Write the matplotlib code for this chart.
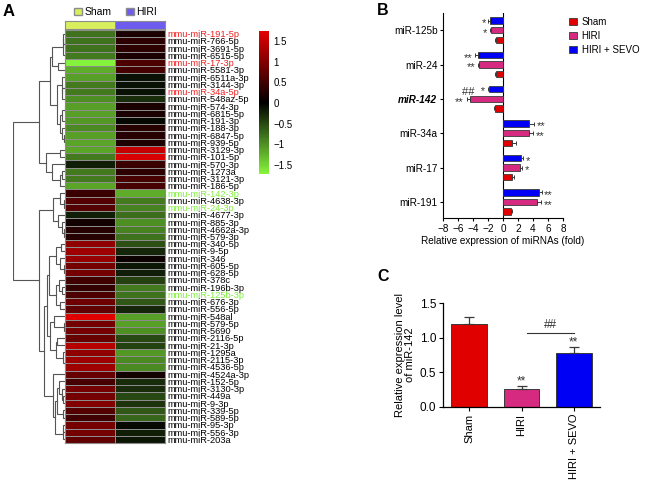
import matplotlib
matplotlib.use("Agg")
import matplotlib.pyplot as plt
import numpy as np
from matplotlib.colors import LinearSegmentedColormap
from matplotlib.patches import Patch
from matplotlib.ticker import FuncFormatter

plt.rcParams['font.family'] = ['Liberation Sans', 'DejaVu Sans']

# ---- panel A data (heatmap, top to bottom) ----
MIRNAS = ["mmu-miR-191-5p", "mmu-miR-766-5p", "mmu-miR-3691-5p", "mmu-miR-6515-5p", "mmu-miR-17-3p",
          "mmu-miR-5581-3p", "mmu-miR-6511a-3p", "mmu-miR-3144-3p", "mmu-miR-34a-5p", "mmu-miR-548az-5p",
          "mmu-miR-574-3p", "mmu-miR-6815-5p", "mmu-miR-191-3p", "mmu-miR-188-3p", "mmu-miR-6847-5p",
          "mmu-miR-939-5p", "mmu-miR-3129-3p", "mmu-miR-101-5p", "mmu-miR-570-3p", "mmu-miR-1273a",
          "mmu-miR-3121-3p", "mmu-miR-186-5p", "mmu-miR-142-3p", "mmu-miR-4638-3p", "mmu-miR-24-3p",
          "mmu-miR-4677-3p", "mmu-miR-885-3p", "mmu-miR-4662a-3p", "mmu-miR-579-3p", "mmu-miR-340-5p",
          "mmu-miR-9-5p", "mmu-miR-346", "mmu-miR-605-5p", "mmu-miR-628-5p", "mmu-miR-378c",
          "mmu-miR-196b-3p", "mmu-miR-125b-3p", "mmu-miR-676-3p", "mmu-miR-556-5p", "mmu-miR-548al",
          "mmu-miR-579-5p", "mmu-miR-5690", "mmu-miR-2116-5p", "mmu-miR-21-3p", "mmu-miR-1295a",
          "mmu-miR-2115-3p", "mmu-miR-4536-5p", "mmu-miR-4524a-3p", "mmu-miR-152-5p", "mmu-miR-3130-3p",
          "mmu-miR-449a", "mmu-miR-9-3p", "mmu-miR-339-5p", "mmu-miR-589-5p", "mmu-miR-95-3p",
          "mmu-miR-556-3p", "mmu-miR-203a"]
SHAM_Z = [-0.8, -0.8, -0.8, -0.85, -1.7, -1.2, -1.1, -0.85, -0.85, -1.0,
          -1.1, -1.1, -1.05, -0.95, -1.1, -1.15, -1.15, -0.85, -0.2, -0.85,
          -0.85, -1.15, 0.45, 0.65, 0.65, -0.2, 0.15, 0.3, 0.3, 1.1,
          1.2, 1.15, 0.9, 0.9, 0.5, 0.4, 0.6, 0.85, 0.75, 1.7,
          0.9, 0.9, 0.8, 1.4, 1.1, 1.2, 1.2, 0.8, 0.55, 0.9,
          0.9, 1.0, 0.65, 0.5, 0.9, 0.9, 0.75]
HIRI_Z = [0.2, 0.35, 0.35, 0.2, 0.6, 0.55, -0.1, -0.1, -0.1, -0.3,
          0.2, 0.2, -0.05, 0.3, 0.3, 0.25, 1.5, 1.65, 0.45, 0.35,
          0.55, 0.55, -1.2, -0.85, -0.9, -0.75, -1.0, -0.9, -0.8, -0.55,
          -0.25, 0.1, -0.15, -0.2, -0.45, -0.85, -0.8, -0.6, -0.25, -1.1,
          -1.1, -1.0, -0.5, -0.45, -1.05, -0.95, -0.95, 0.15, -0.3, -0.3,
          -0.5, -0.35, -0.6, -0.7, -0.05, -0.2, -0.15]
RED_LABELS = ["mmu-miR-191-5p", "mmu-miR-17-3p", "mmu-miR-34a-5p"]
GREEN_LABELS = ["mmu-miR-142-3p", "mmu-miR-24-3p", "mmu-miR-125b-3p"]

# ---- panel B data ----
B_GENES = ["miR-125b", "miR-24", "miR-142", "miR-34a", "miR-17", "miR-191"]
B_SHAM = [-1.0, -1.0, -1.05, 1.25, 1.15, 1.05]
B_SHAM_ERR = [0.1, 0.1, 0.15, 0.45, 0.25, 0.2]
B_HIRI = [-1.6, -3.15, -4.4, 3.4, 2.2, 4.5]
B_HIRI_ERR = [0.1, 0.2, 0.45, 0.6, 0.3, 0.6]
B_SEVO = [-1.8, -3.3, -1.85, 3.4, 2.35, 4.85]
B_SEVO_ERR = [0.15, 0.4, 0.2, 0.7, 0.3, 0.3]
B_HIRI_MARK = ["*", "**", "**", "**", "*", "**"]
B_SEVO_MARK = ["*", "**", "##  *", "**", "*", "**"]

# ---- panel C data ----
C_GROUPS = ["Sham", "HIRI", "HIRI + SEVO"]
C_MEAN = [1.2, 0.25, 0.78]
C_ERR = [0.1, 0.05, 0.09]
C_MARK = ["", "**", "**"]

RED = "#e00000"
PINK = "#d62a80"
BLUE = "#0000f5"
EDGE = "#3a3a3a"

W, H = 645, 482
fig = plt.figure(figsize=(6.45, 4.82), dpi=100)


def box(x0, y0, x1, y1):
    # pixel box (top-left origin) -> figure fraction rect
    return [x0 / W, 1 - y1 / H, (x1 - x0) / W, (y1 - y0) / H]


# ================= A: heatmap =================
vals = np.column_stack([SHAM_Z, HIRI_Z])
n = len(MIRNAS)
cmap = LinearSegmentedColormap.from_list("gkr", ["#86f53c", "#000000", "#e30000"])

ax_h = fig.add_axes(box(65, 30, 165, 443))
mesh = ax_h.pcolormesh(np.arange(3), np.arange(n + 1), vals, cmap=cmap, vmin=-1.72, vmax=1.74,
                       edgecolor="#8c8c8c", linewidth=0.6)
ax_h.set_ylim(n, 0)
ax_h.set_xlim(0, 2)
ax_h.set_xticks([])
ax_h.yaxis.tick_right()
ax_h.set_yticks(np.arange(n) + 0.5)
ax_h.set_yticklabels(MIRNAS, fontsize=6.7)
ax_h.tick_params(axis="y", length=0, pad=1.5)
for lab in ax_h.get_yticklabels():
    if lab.get_text() in RED_LABELS:
        lab.set_color("#f02020")
    elif lab.get_text() in GREEN_LABELS:
        lab.set_color("#7ef03a")
for s in ax_h.spines.values():
    s.set_color("#8c8c8c")

# column header band
ax_g = fig.add_axes(box(65, 21, 165, 29))
ax_g.pcolormesh(np.arange(3), [0, 1], [[0, 1]],
                cmap=LinearSegmentedColormap.from_list("grp", ["#d8ee5c", "#6e5cee"]),
                edgecolor="#8c8c8c", linewidth=0.6)
ax_g.set_xticks([])
ax_g.set_yticks([])
for s in ax_g.spines.values():
    s.set_color("#8c8c8c")

fig.legend(handles=[Patch(facecolor="#d8ee5c", edgecolor="#8c8c8c", label="Sham"),
                    Patch(facecolor="#6e5cee", edgecolor="#8c8c8c", label="HIRI")],
           loc="center left", bbox_to_anchor=(74 / W, 1 - 12 / H), ncol=2, frameon=False,
           fontsize=7.5, handlelength=0.75, handleheight=0.75, handletextpad=0.25,
           columnspacing=1.4, borderpad=0, borderaxespad=0)

# dendrogram: complete linkage, restricted to neighbouring clusters so leaf order is kept
ax_d = fig.add_axes(box(13, 30, 65, 443))
clusters = [dict(rows=[i], y=i + 0.5, h=0.0) for i in range(n)]
while len(clusters) > 1:
    dists = []
    for a, b in zip(clusters[:-1], clusters[1:]):
        pa, pb = vals[a["rows"]], vals[b["rows"]]
        dists.append(np.max(np.linalg.norm(pa[:, None, :] - pb[None, :, :], axis=2)))
    k = int(np.argmin(dists))
    a, b = clusters[k], clusters[k + 1]
    h = max(dists[k], a["h"], b["h"])
    ax_d.plot([a["h"], h, h, b["h"]], [a["y"], a["y"], b["y"], b["y"]], color="#555555", lw=0.8,
              solid_joinstyle="miter")
    clusters[k:k + 2] = [dict(rows=a["rows"] + b["rows"], y=(a["y"] + b["y"]) / 2, h=h)]
ax_d.set_xlim(clusters[0]["h"], 0)
ax_d.set_ylim(n, 0)
ax_d.axis("off")

# colour bar
cax = fig.add_axes(box(259, 31, 269, 174))
cb = fig.colorbar(mesh, cax=cax, ticks=[-1.5, -1, -0.5, 0, 0.5, 1, 1.5])
cb.outline.set_visible(False)
cax.yaxis.set_major_formatter(FuncFormatter(lambda v, p: f"{v:g}".replace("-", "\u2212")))
cax.tick_params(length=0, labelsize=7, pad=3)

# ================= B: horizontal bars =================
ax_b = fig.add_axes(box(443, 13, 563, 218))
pos = np.arange(len(B_GENES))
off, bh = 0.28, 0.19
series = [(B_SEVO, B_SEVO_ERR, BLUE, "HIRI + SEVO", -off),
          (B_HIRI, B_HIRI_ERR, PINK, "HIRI", 0.0),
          (B_SHAM, B_SHAM_ERR, RED, "Sham", off)]
for v, e, c, lab, o in series:
    v, e = np.array(v), np.array(e)
    ax_b.barh(pos + o, v, height=bh, color=c, edgecolor=EDGE, linewidth=0.6, label=lab, zorder=2)
    xerr = np.vstack([np.where(v < 0, e, 0), np.where(v > 0, e, 0)])
    ax_b.errorbar(v, pos + o, xerr=xerr, fmt="none", ecolor=EDGE, elinewidth=0.7, capsize=1.5,
                  capthick=0.7, zorder=3)
for v, e, marks, o in [(B_SEVO, B_SEVO_ERR, B_SEVO_MARK, -off), (B_HIRI, B_HIRI_ERR, B_HIRI_MARK, 0.0)]:
    for i, (vi, ei, m) in enumerate(zip(v, e, marks)):
        if vi < 0:
            ax_b.text(vi - ei - 0.35, i + o + 0.08, m, ha="right", va="center", fontsize=8, color="#333333")
        else:
            ax_b.text(vi + ei + 0.35, i + o + 0.08, m, ha="left", va="center", fontsize=8, color="#333333")
ax_b.axvline(0, color="black", lw=0.8, zorder=1)
ax_b.set_xlim(-8, 8)
ax_b.set_ylim(5.47, -0.5)
ax_b.set_xticks(np.arange(-8, 9, 2))
ax_b.set_yticks(pos)
ax_b.set_yticklabels(B_GENES)
ax_b.get_yticklabels()[2].set_fontweight("bold")
ax_b.get_yticklabels()[2].set_fontstyle("italic")
ax_b.tick_params(labelsize=7.2, length=2.5, width=0.8, pad=1.5)
ax_b.set_xlabel("Relative expression of miRNAs (fold)", fontsize=7.2, labelpad=2)
for s in ["top", "right"]:
    ax_b.spines[s].set_visible(False)
for s in ["left", "bottom"]:
    ax_b.spines[s].set_linewidth(0.8)
h_, l_ = ax_b.get_legend_handles_labels()
ax_b.legend(h_[::-1], l_[::-1], loc="upper left", bbox_to_anchor=(569 / W, 1 - 17 / H),
            bbox_transform=fig.transFigure, frameon=False, fontsize=7, handlelength=0.8,
            handleheight=0.75, handletextpad=0.5, labelspacing=0.4, borderpad=0, borderaxespad=0)

# ================= C: vertical bars =================
ax_c = fig.add_axes(box(443, 303.3, 600, 406.7))
xc = np.arange(len(C_GROUPS))
ax_c.bar(xc, C_MEAN, width=0.68, color=[RED, PINK, BLUE], edgecolor=EDGE, linewidth=0.7, zorder=2)
ax_c.errorbar(xc, C_MEAN, yerr=[np.zeros(3), C_ERR], fmt="none", ecolor=EDGE, elinewidth=0.9,
              capsize=3.5, capthick=0.9, zorder=3)
for i, m in enumerate(C_MARK):
    if m:
        ax_c.text(i, C_MEAN[i] + C_ERR[i] + 0.06, m, ha="center", va="center", fontsize=8.5, color="#333333")
ax_c.plot([1.11, 2.0], [1.07, 1.07], color="#333333", lw=0.8)
ax_c.text(1.56, 1.19, "##", ha="center", va="center", fontsize=8.5, color="#333333")
ax_c.set_xlim(-0.5, 2.5)
ax_c.set_ylim(0, 1.5)
ax_c.set_yticks([0, 0.5, 1.0, 1.5])
ax_c.yaxis.set_major_formatter(FuncFormatter(lambda v, p: f"{v:.1f}"))
ax_c.set_xticks(xc)
ax_c.set_xticklabels(C_GROUPS, rotation=90, fontsize=8)
ax_c.tick_params(axis="y", labelsize=8.5)
ax_c.tick_params(length=3, width=0.8, pad=2)
ax_c.set_ylabel("Relative expression level\nof miR-142", fontsize=8, labelpad=3, linespacing=1.1)
for s in ["top", "right"]:
    ax_c.spines[s].set_visible(False)
for s in ["left", "bottom"]:
    ax_c.spines[s].set_linewidth(0.9)

# panel letters
fig.text(3 / W, 1 - 4 / H, "A", fontsize=12, fontweight="bold", va="top")
fig.text(377 / W, 1 - 3 / H, "B", fontsize=11.5, fontweight="bold", va="top")
fig.text(377 / W, 1 - 269 / H, "C", fontsize=11.5, fontweight="bold", va="top")

fig.savefig("out.png", dpi=100)
